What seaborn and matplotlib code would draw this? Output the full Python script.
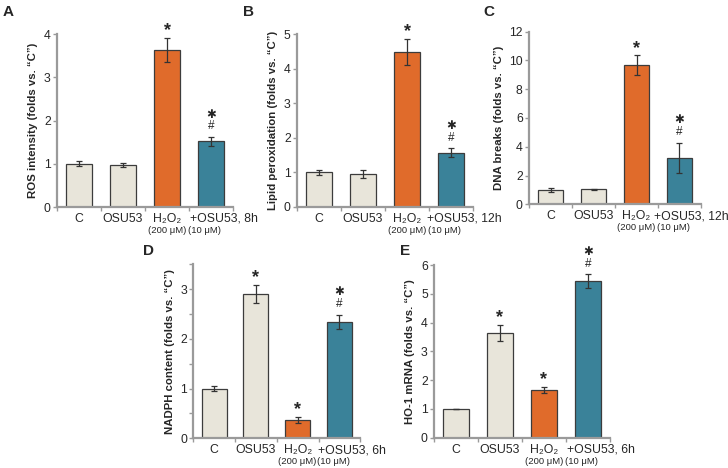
import numpy as np
import pandas as pd
import matplotlib
matplotlib.use("Agg")
from matplotlib import pyplot as plt
from matplotlib.ticker import MultipleLocator
import seaborn as sns

sns.set_theme()
sns.set_style("white")
plt.rcParams['font.family'] = ['Liberation Sans', 'DejaVu Sans']

groups = ['C', 'OSU53', 'H2O2', 'OSU53+H2O2']
bar_colors = ['#e8e5da', '#e8e5da', '#e06b2b', '#3a8299']

# panel A - ROS
ros_mean = [1.0, 0.98, 3.63, 1.52]
ros_err = [0.06, 0.05, 0.28, 0.10]
# panel B - lipid peroxidation
lipid_mean = [1.0, 0.95, 4.48, 1.57]
lipid_err = [0.07, 0.12, 0.38, 0.12]
# panel C - DNA breaks
dna_mean = [1.0, 1.03, 9.66, 3.22]
dna_err = [0.12, 0.03, 0.70, 1.07]
# panel D - NADPH
nadph_mean = [1.0, 2.91, 0.37, 2.34]
nadph_err = [0.05, 0.18, 0.06, 0.15]
# panel E - HO-1 mRNA
ho1_mean = [1.0, 3.65, 1.66, 5.43]
ho1_err = [0.01, 0.28, 0.10, 0.24]

# significance marks per bar
marks_top = ['', '', '*', '\u2731\n#']
marks_bottom = ['', '*', '*', '\u2731\n#']

panels = [
    dict(letter='A', mean=ros_mean, err=ros_err, ylim=4, major=1, minor=1,
         ylabel='ROS intensity (folds vs. \u201cC\u201d)', time='8h', marks=marks_top,
         rect=[57, 34.3, 176, 172.7], lpos=(3, 12), lx=3.3),
    dict(letter='B', mean=lipid_mean, err=lipid_err, ylim=5, major=1, minor=1,
         ylabel='Lipid peroxidation (folds vs. \u201cC\u201d)', time='12h', marks=marks_top,
         rect=[297, 34.3, 176, 172.4], lpos=(243, 12), lx=3.3),
    dict(letter='C', mean=dna_mean, err=dna_err, ylim=12, major=2, minor=2,
         ylabel='DNA breaks (folds vs. \u201cC\u201d)', time='12h', marks=marks_top,
         rect=[529, 31.7, 172, 172.6], lpos=(483, 12), lx=3.27),
    dict(letter='D', mean=nadph_mean, err=nadph_err, ylim=3.5, major=1, minor=0.5,
         ylabel='NADPH content (folds vs. \u201cC\u201d)', time='6h', marks=marks_bottom,
         rect=[193.3, 264.3, 167, 174], lpos=(143, 251), lx=3.3),
    dict(letter='E', mean=ho1_mean, err=ho1_err, ylim=6, major=1, minor=1,
         ylabel='HO-1 mRNA (folds vs. \u201cC\u201d)', time='6h', marks=marks_bottom,
         rect=[434, 265, 176, 172.7], lpos=(400, 251), lx=3.3),
]

W, H = 728, 468
fig = plt.figure(figsize=(W / 100, H / 100), dpi=100)
axis_gray = '#9a9a9a'

for p in panels:
    x0, ytop, w, h = p['rect']
    ax = fig.add_axes([x0 / W, (H - ytop - h) / H, w / W, h / H])
    df = pd.DataFrame({'group': groups, 'value': p['mean']})
    sns.barplot(data=df, x='group', y='value', hue='group', palette=bar_colors,
                saturation=1, width=0.6, edgecolor='#3c3c3c', linewidth=0.9,
                errorbar=None, legend=False, ax=ax)
    xs = np.arange(len(groups))
    ax.errorbar(xs, p['mean'], yerr=p['err'], fmt='none', ecolor='#333333',
                elinewidth=0.9, capsize=2.2, capthick=0.9, zorder=5)

    ax.set_xlim(-0.5, 3.5)
    ax.set_ylim(0, p['ylim'])
    ax.yaxis.set_major_locator(MultipleLocator(p['major']))
    ax.yaxis.set_minor_locator(MultipleLocator(p['minor']))
    ax.set_xticks([])
    ax.set_xticks([-0.5, 0.5, 1.5, 2.5, 3.5], minor=True)
    ax.set_xlabel('')
    ax.set_ylabel(p['ylabel'], fontsize=8.2, fontweight='bold', labelpad=4)

    for s in ['top', 'right']:
        ax.spines[s].set_visible(False)
    for s in ['left', 'bottom']:
        ax.spines[s].set_color(axis_gray)
        ax.spines[s].set_linewidth(1.6)
    ax.tick_params(axis='y', which='both', direction='out', length=3, width=1,
                   color=axis_gray, labelsize=8.8, pad=1.5, left=True)
    ax.tick_params(axis='x', which='minor', direction='out', length=3, width=1,
                   color=axis_gray, bottom=True)

    # category labels
    lab_kw = dict(xycoords=('data', 'axes fraction'), textcoords='offset points',
                  ha='center', va='center', annotation_clip=False)
    ax.annotate('C', xy=(0, 0), xytext=(0, -8.5), fontsize=8.8, **lab_kw)
    ax.annotate('OSU53', xy=(1, 0), xytext=(0, -8.5), fontsize=8.8, **lab_kw)
    ax.annotate('H\u2082O\u2082', xy=(2, 0), xytext=(0, -8.5), fontsize=8.8, **lab_kw)
    ax.annotate('+OSU53, ' + p['time'], xy=(p['lx'], 0), xytext=(0, -8.5),
                fontsize=8.8, **lab_kw)
    ax.annotate('(200 \u03bcM)', xy=(2, 0), xytext=(0, -17), fontsize=6.8, **lab_kw)
    ax.annotate('(10 \u03bcM)', xy=(2.85, 0), xytext=(0, -17), fontsize=6.8, **lab_kw)

    # significance marks
    for i, mk in enumerate(p['marks']):
        if not mk:
            continue
        top = p['mean'][i] + p['err'][i]
        if '#' in mk:
            ax.annotate(mk, xy=(i, top), xytext=(0, 3.5), textcoords='offset points',
                        ha='center', va='bottom', fontsize=8.5, linespacing=0.95)
        else:
            ax.annotate(mk, xy=(i, top), xytext=(0, -1), textcoords='offset points',
                        ha='center', va='bottom', fontsize=13, fontweight='bold')

    fig.text(p['lpos'][0] / W, 1 - p['lpos'][1] / H, p['letter'], fontsize=11,
             fontweight='bold', ha='left', va='center')

fig.savefig('out.png', dpi=100)
